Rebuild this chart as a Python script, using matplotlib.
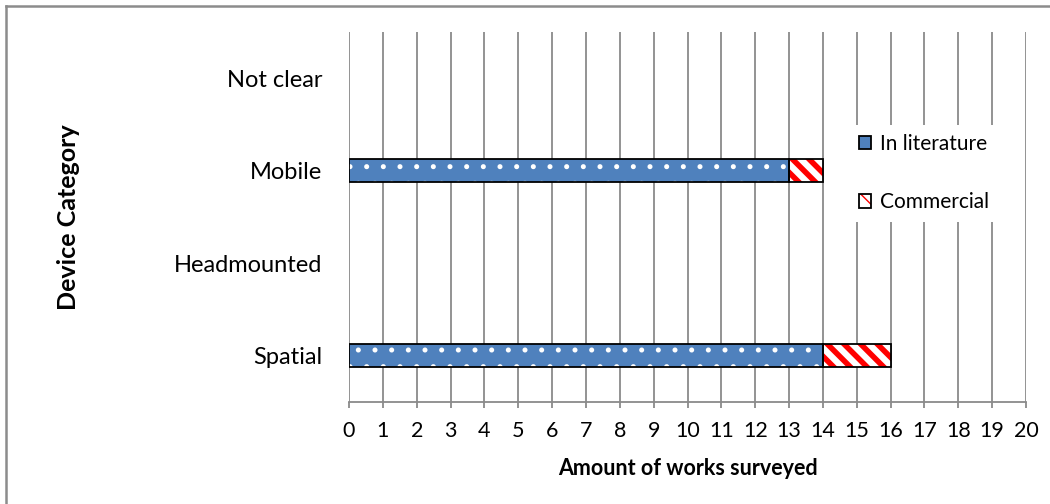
import matplotlib
matplotlib.use("Agg")
import matplotlib.pyplot as plt
from matplotlib.patches import Patch
from matplotlib.lines import Line2D
from matplotlib.legend_handler import HandlerTuple
import numpy as np

# Device categories (bottom to top) and counts of surveyed works
categories = ["Spatial", "Headmounted", "Mobile", "Not clear"]
in_literature = [14, 0, 13, 0]
commercial = [2, 0, 1, 0]
x_ticks = list(range(0, 21))

plt.rcParams["font.family"] = ["Lato", "DejaVu Sans"]

BLUE = "#4F81BD"
GRID = "#8A8A8A"
STRIPES = "\\\\"

fig = plt.figure(figsize=(10.5, 5.04), dpi=100)
W, H = 1050, 504
ax = fig.add_axes([349 / W, 1 - 402 / H, (1026 - 349) / W, (402 - 32) / H])

y = np.arange(len(categories))
bar_h = 0.25
left_comm = in_literature


def set_hlw(bars, lw):
    for p in bars:
        if hasattr(p, "set_hatch_linewidth"):
            p.set_hatch_linewidth(lw)


# Blue dotted bars
with plt.rc_context({"hatch.linewidth": 1.2}):
    lit = ax.barh(y, in_literature, height=bar_h, color=BLUE, edgecolor="white",
                  hatch=".", linewidth=0, zorder=3)
set_hlw(lit, 1.2)

# Red/white striped bars
with plt.rc_context({"hatch.linewidth": 4.0}):
    com = ax.barh(y, commercial, left=left_comm, height=bar_h, color="white",
                  edgecolor="#FF0000", hatch=STRIPES, linewidth=0, zorder=3)
set_hlw(com, 4.0)

# Black outlines
for vals, lefts in ((in_literature, [0] * len(y)), (commercial, left_comm)):
    outl = ax.barh(y, vals, left=lefts, height=bar_h, fill=False,
                   edgecolor="black", linewidth=1.3, zorder=4)
    for p, v in zip(outl, vals):
        if v == 0:
            p.set_visible(False)

ax.set_xlim(x_ticks[0], x_ticks[-1])
ax.set_ylim(-0.5, len(categories) - 0.5)
ax.set_xticks(x_ticks)
ax.set_xticklabels([str(t) for t in x_ticks], fontsize=15.5)
ax.set_yticks(y)
ax.set_yticklabels(categories, fontsize=17)

ax.xaxis.grid(True, color=GRID, linewidth=1.3, zorder=0)
ax.set_axisbelow(True)
for s in ("top", "right", "left"):
    ax.spines[s].set_visible(False)
ax.spines["bottom"].set_color(GRID)
ax.spines["bottom"].set_linewidth(1.3)
ax.tick_params(axis="x", direction="out", length=4.5, width=1.3, color=GRID,
               pad=9, labelcolor="black")
ax.tick_params(axis="y", length=0, pad=19, labelcolor="black")

ax.set_xlabel("Amount of works surveyed", fontsize=15.5, fontweight="bold")
ax.set_ylabel("Device Category", fontsize=18, fontweight="bold")
ax.xaxis.set_label_coords(0.5, -0.152)
ax.yaxis.set_label_coords(-0.398, 0.5)

# Legend
h_lit = Patch(facecolor=BLUE, edgecolor="black", linewidth=1.3)
with plt.rc_context({"hatch.linewidth": 4.0}):
    h_com_fill = Patch(facecolor="white", edgecolor="#FF0000", hatch=STRIPES, linewidth=0)
h_com_edge = Patch(facecolor="none", edgecolor="black", linewidth=1.3)
leg = ax.legend([h_lit, (h_com_fill, h_com_edge)], ["In literature", "Commercial"],
                handler_map={tuple: HandlerTuple(ndivide=1, pad=0)},
                loc="upper left", bbox_to_anchor=(0.739, 0.75),
                fontsize=15, frameon=True, fancybox=False, framealpha=1,
                handlelength=0.6, handleheight=0.6, handletextpad=0.4,
                labelspacing=1.85, borderpad=0.45, borderaxespad=0)
leg.get_frame().set_edgecolor("none")
leg.get_frame().set_facecolor("white")
leg.set_zorder(5)

# Chart-area border (top and left edges)
fig.add_artist(Line2D([6 / W, 1], [1 - 6 / H, 1 - 6 / H], transform=fig.transFigure,
                      color="#8C8C8C", linewidth=1.8))
fig.add_artist(Line2D([6 / W, 6 / W], [0, 1 - 6 / H], transform=fig.transFigure,
                      color="#8C8C8C", linewidth=1.8))

fig.savefig("out.png", dpi=100, facecolor="white")
